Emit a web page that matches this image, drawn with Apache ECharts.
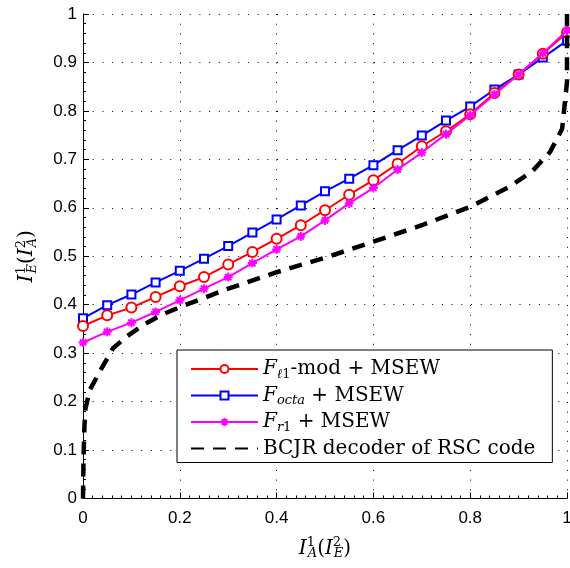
<!DOCTYPE html>
<html>
<head>
<meta charset="utf-8">
<script src="https://cdn.jsdelivr.net/npm/echarts@6/dist/echarts.min.js"></script>
<style>
html,body{margin:0;padding:0;background:#fff;}
#chart{width:570px;height:568px;}
</style>
</head>
<body>
<div id="chart"></div>
<script>
// ---- data ----
const xs = [0,0.05,0.1,0.15,0.2,0.25,0.3,0.35,0.4,0.45,0.5,0.55,0.6,0.65,0.7,0.75,0.8,0.85,0.9,0.95,1];
const fl1Mod = [0.356,0.378,0.394,0.416,0.438,0.457,0.483,0.509,0.536,0.564,0.595,0.627,0.657,0.691,0.727,0.758,0.793,0.837,0.875,0.918,0.962];
const fOcta = [0.372,0.399,0.421,0.446,0.470,0.495,0.521,0.549,0.576,0.605,0.634,0.660,0.688,0.719,0.749,0.780,0.809,0.844,0.875,0.910,0.945];
const fR1 = [0.322,0.344,0.363,0.385,0.409,0.433,0.457,0.486,0.514,0.541,0.574,0.609,0.641,0.679,0.714,0.752,0.791,0.834,0.875,0.919,0.966];
const bcjrX = [0,0.001,0.003,0.005,0.014,0.038,0.062,0.09,0.124,0.16,0.2,0.3,0.4,0.5,0.6,0.7,0.8,0.88,0.927,0.965,0.99,1.0,1.0];
const bcjrY = [0,0.08,0.15,0.185,0.224,0.268,0.31,0.334,0.358,0.378,0.395,0.433,0.467,0.497,0.53,0.564,0.602,0.643,0.674,0.715,0.763,0.86,1.0];
const seriesNames = ['l1', 'octa', 'r1', 'bcjr'];
const xTicks = {min:0, max:1, interval:0.2};
const yTicks = {min:0, max:1, interval:0.1};

const pair = (a, b) => a.map((v, i) => [v, b[i]]);

const serif = 'DejaVu Serif';
function rs(extra) {
  return Object.assign({fontFamily: serif, color: '#000', align: 'left'}, extra);
}
const richText = {
  n: rs({fontSize: 20, lineHeight: 24}),
  it: rs({fontStyle: 'italic', fontSize: 20, lineHeight: 24}),
  sub: rs({fontSize: 13, lineHeight: 14, verticalAlign: 'bottom'}),
  subit: rs({fontStyle: 'italic', fontSize: 13, lineHeight: 14, verticalAlign: 'bottom'}),
  sup: rs({fontSize: 13, lineHeight: 14, verticalAlign: 'top'}),
  supz: rs({fontSize: 13, lineHeight: 14, verticalAlign: 'top', width: 1})
};
const legendLabels = {
  l1: '{it|F}{subit|ℓ}{sub|1}{n|-mod + MSEW}',
  octa: '{it|F}{subit|octa}{n| + MSEW}',
  r1: '{it|F}{subit|r}{sub|1}{n| + MSEW}',
  bcjr: '{n|BCJR decoder of RSC code}'
};

const asterisk = 'path://M5 0L5 10M0 5L10 5M1.5 1.5L8.5 8.5M8.5 1.5L1.5 8.5';

const chart = echarts.init(document.getElementById('chart'), null, {renderer: 'canvas'});
chart.setOption({
  backgroundColor: '#fff',
  animation: false,
  grid: {left: 83, right: 3, top: 14, bottom: 69.5, outerBoundsMode: 'none', containLabel: false},
  legend: {
    left: 177, top: 350, orient: 'vertical',
    backgroundColor: '#fff', borderColor: '#000', borderWidth: 1,
    padding: [9, 17, 4, 13],
    itemWidth: 67, itemHeight: 10, itemGap: 4.5,
    data: [
      {name: 'l1'}, {name: 'octa'}, {name: 'r1'},
      {name: 'bcjr', itemStyle: {opacity: 0}}
    ],
    formatter: name => legendLabels[name],
    textStyle: {rich: richText, fontFamily: serif, fontSize: 20, color: '#000'}
  },
  xAxis: {
    type: 'value', min: xTicks.min, max: xTicks.max, interval: xTicks.interval,
    name: '{it|I}{supz|1}{subit|A}{n|(}{it|I}{supz|2}{subit|E}{n|)}',
    nameLocation: 'middle', nameGap: 38,
    nameTextStyle: {rich: richText},
    axisLine: {lineStyle: {color: '#000', width: 1}},
    axisTick: {inside: true, length: 6, lineStyle: {color: '#000'}},
    minorTick: {show: true, splitNumber: 10, length: 3, lineStyle: {color: '#000'}},
    axisLabel: {fontFamily: 'Liberation Sans', fontSize: 17, color: '#000', margin: 11},
    splitLine: {show: true, lineStyle: {color: '#000', width: 1, type: [1, 8.7]}}
  },
  yAxis: {
    type: 'value', min: yTicks.min, max: yTicks.max, interval: yTicks.interval,
    name: '{it|I}{supz|1}{subit|E}{n|(}{it|I}{supz|2}{subit|A}{n|)}',
    nameLocation: 'middle', nameGap: 44, nameRotate: 90,
    nameTextStyle: {rich: richText},
    axisLine: {show: true, lineStyle: {color: '#000', width: 1}},
    axisTick: {show: true, inside: true, length: 6, lineStyle: {color: '#000'}},
    minorTick: {show: true, splitNumber: 5, length: 3, lineStyle: {color: '#000'}},
    axisLabel: {fontFamily: 'Liberation Sans', fontSize: 17, color: '#000', margin: 6},
    splitLine: {show: true, lineStyle: {color: '#000', width: 1, type: [1, 8.7]}}
  },
  series: [
    {
      name: 'l1', type: 'line', data: pair(xs, fl1Mod),
      symbol: 'emptyCircle', symbolSize: 10,
      lineStyle: {color: '#ff0000', width: 2},
      itemStyle: {color: '#ff0000', borderColor: '#ff0000', borderWidth: 1.6},
      z: 3
    },
    {
      name: 'octa', type: 'line', data: pair(xs, fOcta),
      symbol: 'emptyRect', symbolSize: 8,
      lineStyle: {color: '#0000ff', width: 2},
      itemStyle: {color: '#0000ff', borderColor: '#0000ff', borderWidth: 1.6},
      z: 2
    },
    {
      name: 'r1', type: 'line', data: pair(xs, fR1),
      symbol: asterisk, symbolSize: 9,
      lineStyle: {color: '#ff00ff', width: 2},
      itemStyle: {color: '#ff00ff', borderColor: '#ff00ff', borderWidth: 2},
      z: 4
    },
    {
      name: 'bcjr', type: 'line', data: pair(bcjrX, bcjrY),
      symbol: 'none', showSymbol: false,
      lineStyle: {color: '#000', width: 4.5, type: [13, 9]},
      itemStyle: {color: '#000'},
      z: 5
    }
  ]
});
</script>
</body>
</html>
